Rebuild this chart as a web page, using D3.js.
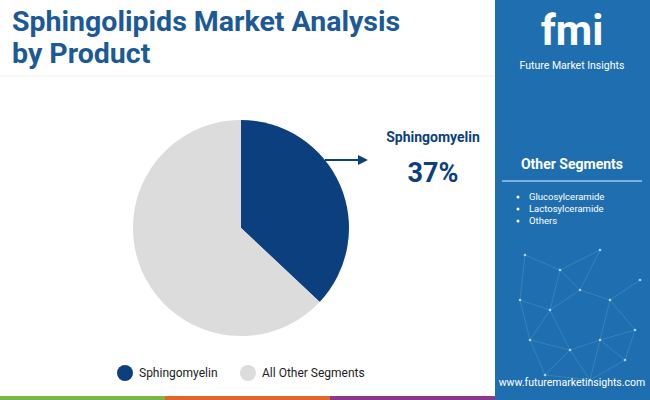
<!DOCTYPE html><html><head><meta charset="utf-8"><script src="https://cdn.jsdelivr.net/npm/d3@7"></script>
<style>body{margin:0}svg{display:block}text{font-family:Roboto,"Open Sans",sans-serif}</style></head><body>
<script>
const categories=["Sphingomyelin","All Other Segments"];
const values=[37,63];
const colors=["#0c3f7e","#dcdcdc"];
const otherSegments=["Glucosylceramide","Lactosylceramide","Others"];
const W=650,H=400;
const svg=d3.select("body").append("svg").attr("width",W).attr("height",H);
svg.append("rect").attr("width",W).attr("height",H).attr("fill","#fff");
svg.append("rect").attr("x",495).attr("y",0).attr("width",155).attr("height",H).attr("fill","#1f6fb0");
const t=svg.append("text").attr("x",12).attr("y",31).attr("fill","#1b5a96").attr("font-size",28.5).attr("font-weight",700).attr("font-family","Poppins,'Open Sans',sans-serif");
t.append("tspan").text("Sphingolipids Market Analysis");
t.append("tspan").attr("x",12).attr("dy",32).text("by Product");
svg.append("line").attr("x1",0).attr("x2",495).attr("y1",76).attr("y2",76).attr("stroke","#eee");
const pie=d3.pie().sort(null).value(d=>d)(values);
const arc=d3.arc().innerRadius(0).outerRadius(108);
svg.append("g").attr("transform","translate(241,228)").selectAll("path").data(pie).join("path").attr("d",arc).attr("fill",(d,i)=>colors[i]);
svg.append("line").attr("x1",325).attr("x2",362).attr("y1",160).attr("y2",160).attr("stroke","#0c3f7e").attr("stroke-width",2);
svg.append("path").attr("d","M358,155 L368,160 L358,165Z").attr("fill","#0c3f7e");
svg.append("text").attr("x",433).attr("y",142).attr("text-anchor","middle").attr("font-size",14).attr("font-weight",700).attr("fill","#0c3f7e").text(categories[0]);
svg.append("text").attr("x",433).attr("y",182).attr("text-anchor","middle").attr("font-size",27).attr("font-weight",700).attr("fill","#0c3f7e").text(values[0]+"%");
const lg=svg.append("g");
[[125,0],[248,1]].forEach(([x,i])=>{lg.append("circle").attr("cx",x).attr("cy",373).attr("r",8).attr("fill",colors[i]);
lg.append("text").attr("x",x+14).attr("y",377).attr("font-size",12).attr("fill","#222").text(categories[i]);});
[["#7ab648",0],["#e0662b",165],["#8a3a8c",330]].forEach(([c,x])=>svg.append("rect").attr("x",x).attr("y",396).attr("width",165).attr("height",4).attr("fill",c));
const pts=[[525,255],[560,270],[580,290],[600,250],[640,280],[520,300],[550,310],[610,300],[635,330],[530,340],[570,350],[600,340],[625,360],[545,375],[590,380]];
const net=svg.append("g").attr("stroke","#6fa9d8").attr("stroke-opacity",0.5).attr("stroke-width",0.6);
pts.forEach((p,i)=>{for(let j=i+1;j<pts.length;j++){const q=pts[j];if(Math.hypot(p[0]-q[0],p[1]-q[1])<50)net.append("line").attr("x1",p[0]).attr("y1",p[1]).attr("x2",q[0]).attr("y2",q[1]);}});
pts.forEach(p=>svg.append("circle").attr("cx",p[0]).attr("cy",p[1]).attr("r",1.3).attr("fill","#a8d0f0"));
svg.append("text").attr("x",572).attr("y",45).attr("text-anchor","middle").attr("font-size",42).attr("font-weight",700).attr("fill","#fff").attr("font-family","'DejaVu Serif',serif").text("fmi");
svg.append("text").attr("x",572).attr("y",69).attr("text-anchor","middle").attr("font-size",10.5).attr("fill","#fff").text("Future Market Insights");
svg.append("text").attr("x",572).attr("y",169).attr("text-anchor","middle").attr("font-size",14).attr("font-weight",700).attr("fill","#fff").attr("font-family","Poppins,'Open Sans',sans-serif").text("Other Segments");
svg.append("line").attr("x1",502).attr("x2",642).attr("y1",181).attr("y2",181).attr("stroke","#9cc8ee").attr("stroke-width",1.5);
otherSegments.forEach((s,i)=>{svg.append("circle").attr("cx",518).attr("cy",197+i*12).attr("r",1.5).attr("fill","#fff");
svg.append("text").attr("x",529).attr("y",200+i*12).attr("font-size",9.5).attr("fill","#fff").attr("font-family","Poppins,'Open Sans',sans-serif").text(s);});
svg.append("text").attr("x",572).attr("y",386).attr("text-anchor","middle").attr("font-size",10.5).attr("fill","#fff").text("www.futuremarketinsights.com");
</script></body></html>
